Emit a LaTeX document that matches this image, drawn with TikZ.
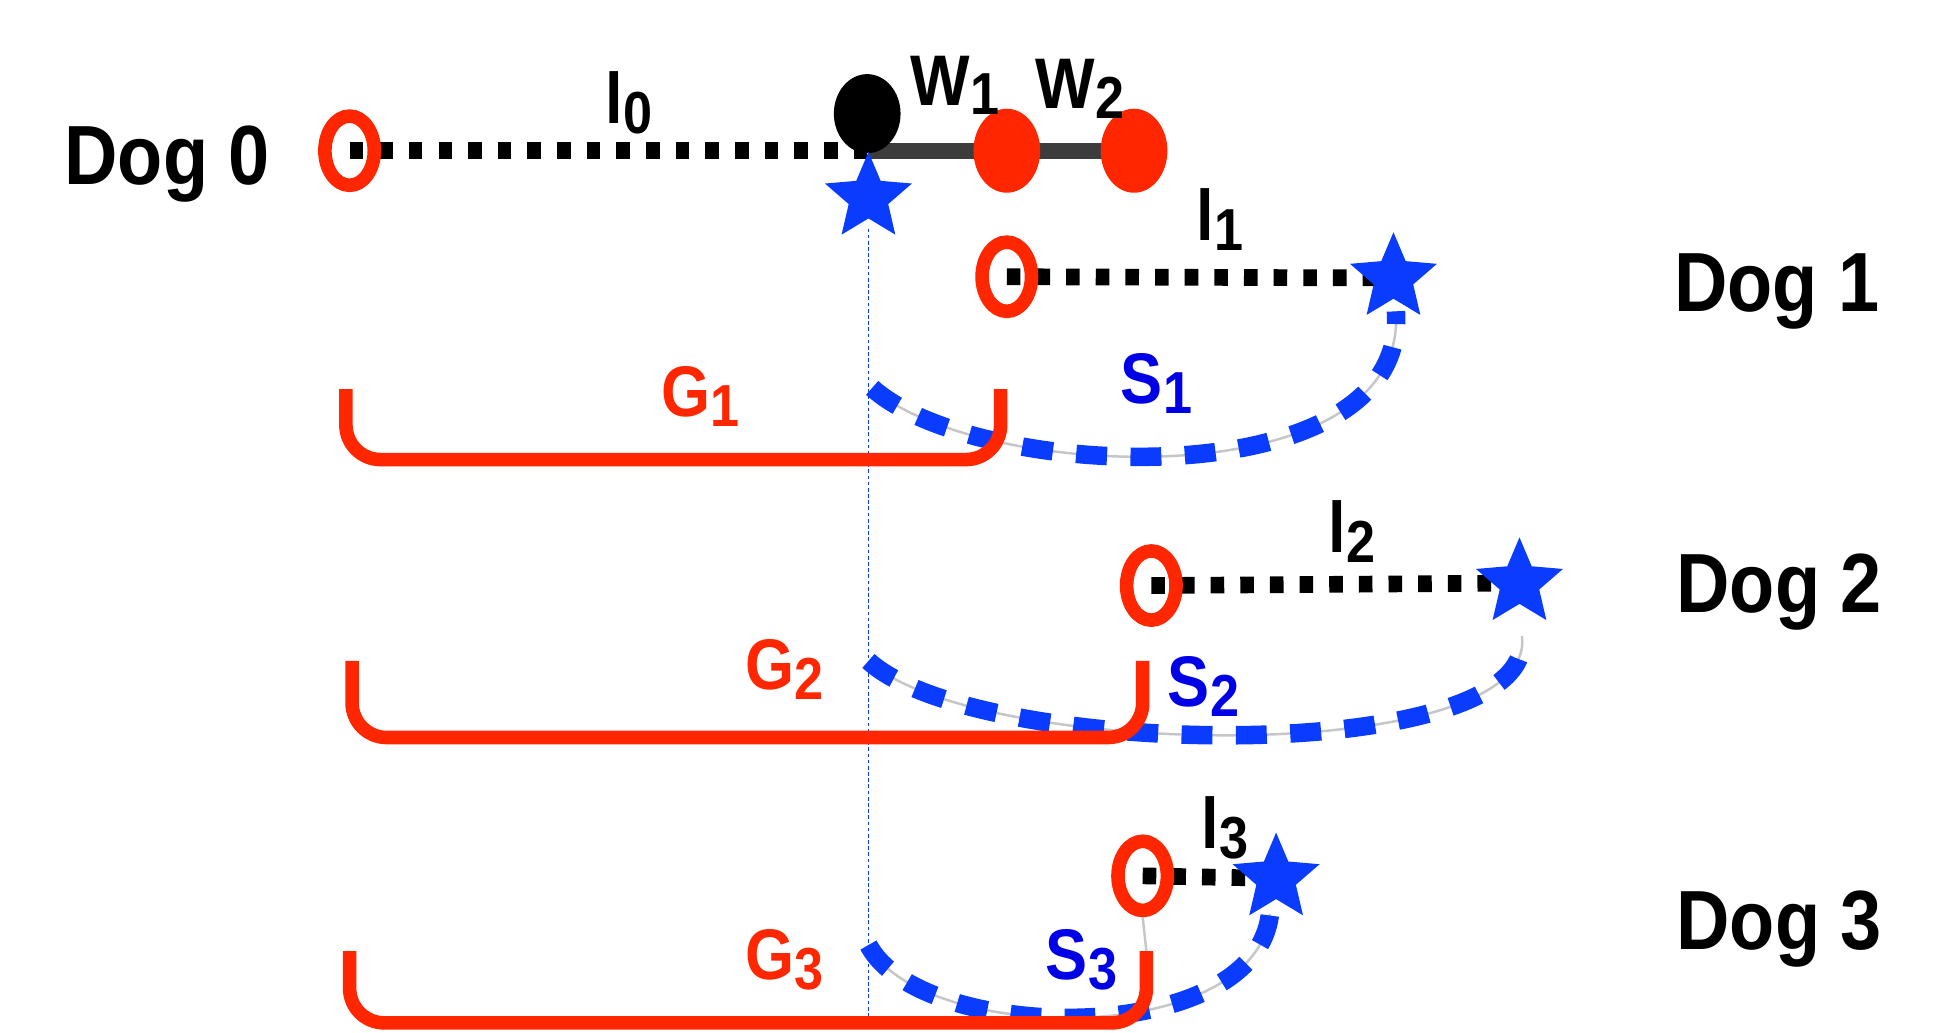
\documentclass[tikz,border=0pt]{standalone}
\usepackage{fontspec}
\setmainfont{Liberation Sans}[FakeStretch=0.88]
\usetikzlibrary{shapes.geometric}

\definecolor{kred}{HTML}{FF2600}
\definecolor{kblue}{HTML}{0A3CFF}
\definecolor{sblue}{HTML}{0000E6}
\definecolor{barc}{HTML}{3C3C3C}

% letter with a lowered, slightly smaller index
\newcommand\sublab[2]{#1\kern0.01em\raisebox{-8pt}{\fontsize{48}{48}\selectfont #2}}

\begin{document}
\begin{tikzpicture}[x=1pt,y=-1pt,
  ring/.style={ellipse, draw=kred, line width=11pt, minimum width=40pt, minimum height=56pt, inner sep=0pt},
  blob/.style={ellipse, minimum width=54pt, minimum height=64pt, inner sep=0pt},
  target/.style={star, star points=5, star point ratio=2.2, fill=kblue, minimum size=74pt, inner sep=0pt},
  chain/.style={line width=13.5pt, dash pattern=on 11pt off 13pt},
  gapline/.style={draw=kred, line width=11pt, rounded corners=28pt},
  slide/.style={draw=kblue, line width=15pt, dash pattern=on 25pt off 19pt},
  trail/.style={draw=gray!45, line width=2pt},
  dogname/.style={font=\fontsize{68}{68}\selectfont\bfseries, anchor=base west, inner sep=0pt},
  lab/.style={font=\fontsize{58}{58}\selectfont\bfseries, anchor=base west, inner sep=0pt},
]
\useasboundingbox (0,0) rectangle (1568,836);

% ---- centres of the markers
\coordinate (p0) at (283,122);
\coordinate (k0) at (703,122);
\coordinate (p1) at (815,224);
\coordinate (e1) at (1128,225);
\coordinate (p2) at (932,474);
\coordinate (e2) at (1230,472);
\coordinate (p3) at (925,709);
\coordinate (e3) at (1033,711);
\coordinate (m1) at (815,122);
\coordinate (m2) at (918,122);

% ---- leashes
\draw[chain] (p0) -- (k0);
\draw[barc, line width=13pt] (k0) -- (m2);
\draw[chain] (p1) -- (e1);
\draw[chain] (p2) -- (e2);
\draw[chain] (p3) -- (e3);

% ---- Dog 0
\node[dogname] (d0) at (52,149) {Dog 0};
\node[ring] (c0) at (p0) {};
\node[blob, fill=black] (w1) at (702,92) {};
\node[blob, fill=kred, minimum height=68pt] (r1) at (m1) {};
\node[blob, fill=kred, minimum height=68pt] (r2) at (m2) {};
\node[target] (t0) at (703,160) {};
\node[lab] (l0) at (490,100) {\sublab{l}{0}};
\node[lab] (lw1) at (737,85) {\sublab{W}{1}};
\node[lab] (lw2) at (838,88) {\sublab{W}{2}};

% reference line under the star
\coordinate (vb) at (703,832);
\draw[kblue, line width=1pt, dash pattern=on 3pt off 2pt] (t0.center) ++(0,25) -- (vb);

% ---- Dog 1
\node[dogname] (d1) at (1355,252) {Dog 1};
\node[ring] (c1) at (p1) {};
\node[target] (t1) at (e1) {};
\node[lab] (l1) at (968,195) {\sublab{l}{1}};
\coordinate (s1a) at (706,314);
\coordinate (s1b) at (1130,252);
\draw[trail] (s1a) .. controls (790,390) and (1140,405) .. (s1b);
\draw[slide] (s1a) .. controls (790,390) and (1140,405) .. (s1b);
\draw[gapline] (280,315) -- (280,372) -- (810,372) -- (810,315);
\node[lab, text=kred] (g1) at (535,337) {\sublab{G}{1}};
\node[lab, text=sblue] (s1) at (907,327) {\sublab{S}{1}};

% ---- Dog 2
\node[dogname] (d2) at (1357,496) {Dog 2};
\node[ring] (c2) at (p2) {};
\node[target] (t2) at (e2) {};
\node[lab] (l2) at (1075,447) {\sublab{l}{2}};
\coordinate (s2a) at (703,535);
\coordinate (s2b) at (1232,515);
\draw[trail] (s2a) .. controls (790,615) and (1245,622) .. (s2b);
\draw[slide] (s2a) .. controls (790,615) and (1245,622) .. (s2b);
\draw[gapline] (285,535) -- (285,597) -- (925,597) -- (925,535);
\node[lab, text=kred] (g2) at (603,558) {\sublab{G}{2}};
\node[lab, text=sblue] (s2) at (945,572) {\sublab{S}{2}};

% ---- Dog 3
\node[dogname] (d3) at (1357,769) {Dog 3};
\node[ring] (c3) at (p3) {};
\node[target] (t3) at (e3) {};
\node[lab] (l3) at (972,687) {\sublab{l}{3}};
\coordinate (s3a) at (703,765);
\coordinate (s3b) at (1028,740);
\coordinate (g3top) at (928,770);
\draw[trail] (c3.south) -- (g3top);
\draw[trail] (s3a) .. controls (745,845) and (1015,850) .. (s3b);
\draw[slide] (s3a) .. controls (745,845) and (1015,850) .. (s3b);
\draw[gapline] (283,770) -- (283,828) -- (928,828) -- (g3top);
\node[lab, text=kred] (g3) at (603,793) {\sublab{G}{3}};
\node[lab, text=sblue] (s3) at (846,793) {\sublab{S}{3}};
\end{tikzpicture}
\end{document}
